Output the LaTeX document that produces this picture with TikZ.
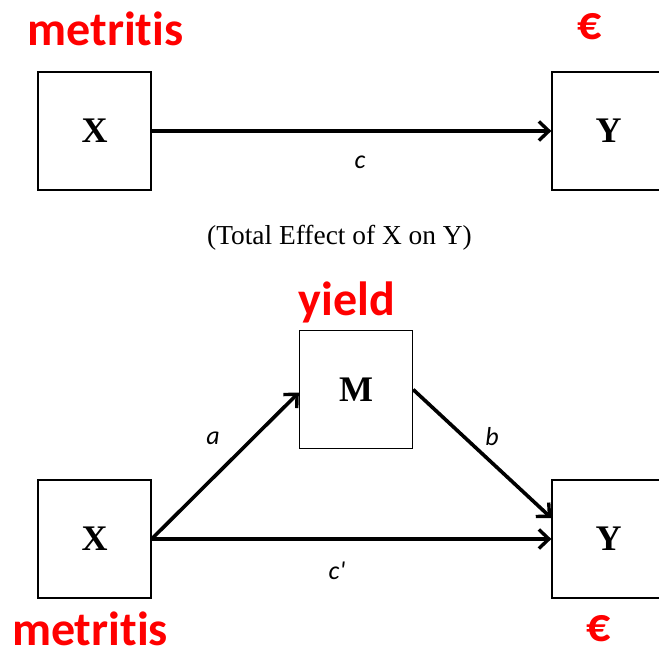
\documentclass[tikz,border=0pt]{standalone}
\usepackage{fontspec}
\setmainfont{Liberation Serif}
\newfontfamily\calfont[Ligatures=NoCommon]{Carlito}
\usetikzlibrary{arrows.meta}
\definecolor{lblred}{RGB}{255,0,0}
\newcommand{\metr}{metrit\kern0pt is}
\begin{document}
\begin{tikzpicture}[x=1pt,y=-1pt,
  varbox/.style={draw,line width=1.3pt,minimum width=113pt,minimum height=118pt,inner sep=0pt,font=\fontsize{36}{42}\selectfont\bfseries},
  redlbl/.style={text=lblred,inner sep=0pt,font=\calfont\fontsize{48}{54}\selectfont\bfseries},
  pathlbl/.style={inner sep=0pt,font=\calfont\fontsize{26}{30}\selectfont\itshape},
  conn/.style={line width=3.6pt,-{Straight Barb[length=10pt,width=19pt,line width=3.4pt]}}]
\useasboundingbox (0,0) rectangle (659,649);
% top panel
\node[varbox] (x1) at (94.5,131) {X};
\node[varbox] (y1) at (608.5,131) {Y};
\draw[conn] (x1.east) -- (y1.west);
\node[pathlbl] (c) at (360,162) {c};
\node[inner sep=0pt,font=\fontsize{27.4}{32}\selectfont] (cap) at (339.5,238) {(Total Effect of X on Y)};
\node[redlbl] (m1) at (105.5,28.5) {\metr};
\node[redlbl] (e1) at (590,27) {€};
% bottom panel
\node[varbox] (m) at (356,389.5) {M};
\node[varbox] (x2) at (94.5,539) {X};
\node[varbox] (y2) at (608.5,539) {Y};
\draw[conn] (x2.east) -- ([yshift=-3pt]m.west);
\draw[conn] (m.east) -- ([yshift=21pt]y2.west);
\draw[conn] (x2.east) -- (y2.west);
\node[pathlbl] (a) at (213,438) {a};
\node[pathlbl] (b) at (492,437) {b};
\node[pathlbl] (cp) at (337,571) {c'};
\node[redlbl] (yl) at (347,302) {yield};
\node[redlbl] (m2) at (90,628.5) {\metr};
\node[redlbl] (e2) at (598.5,628.5) {€};
\end{tikzpicture}
\end{document}
